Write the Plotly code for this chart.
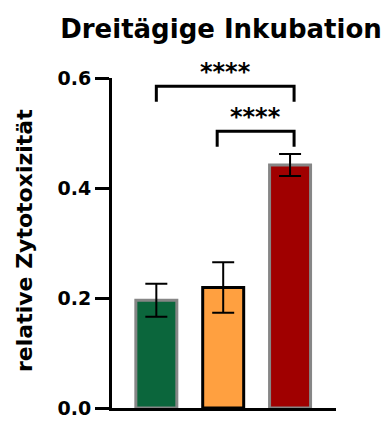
import plotly.graph_objects as go

# Gruppen und Messwerte (Mittelwert ± Fehler)
groups = ["Gruppe 1", "Gruppe 2", "Gruppe 3"]
means = [0.196, 0.219, 0.442]
errors = [0.030, 0.046, 0.020]
fill_colors = ["#0b663c", "#ffa040", "#a00000"]
edge_colors = ["#868686", "#000000", "#868686"]

y_tickvals = [0.0, 0.2, 0.4, 0.6]
y_ticktext = ["0.0", "0.2", "0.4", "0.6"]

# Signifikanzklammern: (Gruppe links, Gruppe rechts, Höhe, Beschriftung)
comparisons = [(0, 2, 0.585, "****"), (1, 2, 0.503, "****")]
bracket_ends = [(0.0, 0.06), (-0.09, 0.06)]  # seitlicher Versatz der Klammerbeine
leg_len = 0.028

FONT = "DejaVu Sans"
x_pos = list(range(len(groups)))

fig = go.Figure()
fig.add_trace(go.Bar(
    x=x_pos,
    y=means,
    width=0.613,
    marker=dict(color=fill_colors, line=dict(color=edge_colors, width=3)),
    error_y=dict(type="data", array=errors, visible=True,
                 color="black", thickness=2, width=11),
    hoverinfo="y",
))

shapes = []
annotations = []
for (a, b, h, label), (da, db) in zip(comparisons, bracket_ends):
    xa = a + da
    xb = b + db
    shapes.append(dict(
        type="path", xref="x", yref="y",
        path=f"M {xa},{h - leg_len} L {xa},{h} L {xb},{h} L {xb},{h - leg_len}",
        line=dict(color="black", width=3),
    ))
    annotations.append(dict(
        x=(xa + xb) / 2, y=h, xref="x", yref="y",
        text=label, showarrow=False, yanchor="middle", yshift=14,
        font=dict(family=FONT, size=24, color="black", weight="bold"),
    ))

# Achsentitel (gedreht)
annotations.append(dict(
    x=-0.39, y=0.508, xref="paper", yref="paper",
    text="relative Zytotoxizität", textangle=-90, showarrow=False,
    xanchor="center", yanchor="middle",
    font=dict(family=FONT, size=22, color="black", weight="bold"),
))

fig.update_layout(
    width=390, height=422,
    margin=dict(l=112, r=54, t=78, b=14, autoexpand=False),
    paper_bgcolor="white", plot_bgcolor="white",
    showlegend=False,
    title=dict(
        text="Dreitägige Inkubation",
        x=221 / 390, xanchor="center", xref="container",
        y=1 - 29 / 422, yanchor="middle", yref="container",
        font=dict(family=FONT, size=26, color="black", weight="bold"),
    ),
    xaxis=dict(
        range=[-0.663, 2.687], showline=True, linecolor="black", linewidth=3,
        showticklabels=False, ticks="", showgrid=False, zeroline=False,
        fixedrange=True,
    ),
    yaxis=dict(
        range=[0, 0.6], showline=True, linecolor="black", linewidth=3,
        tickvals=y_tickvals, ticktext=y_ticktext,
        ticks="outside", ticklen=14, tickwidth=3, tickcolor="black",
        tickfont=dict(family=FONT, size=19, color="black", weight="bold"),
        showgrid=False, zeroline=False, fixedrange=True,
    ),
    shapes=shapes,
    annotations=annotations,
)

fig.write_html("out.html")
